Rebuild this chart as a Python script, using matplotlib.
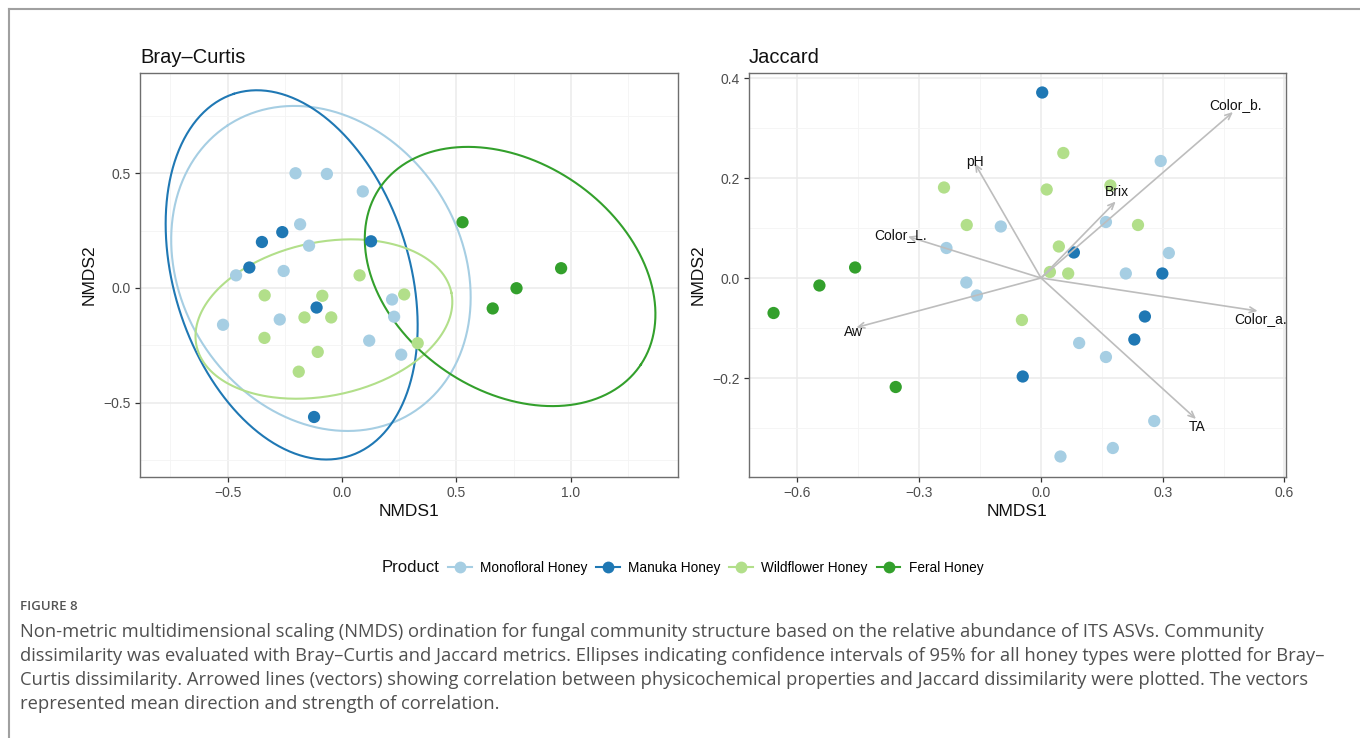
import numpy as np
import matplotlib
matplotlib.use("Agg")
import matplotlib.pyplot as plt
from matplotlib.lines import Line2D

plt.rcParams['font.family'] = ['Liberation Sans', 'DejaVu Sans']

# ---------------- data ----------------
groups = ["Monofloral Honey", "Manuka Honey", "Wildflower Honey", "Feral Honey"]
colors = ["#A6CEE3", "#1F78B4", "#B2DF8A", "#33A02C"]

# Bray-Curtis NMDS scores
bc_mono_x = [-0.203, -0.066, 0.091, -0.183, -0.144, -0.463, -0.255, 0.219, 0.228, -0.272, -0.520, 0.119, 0.259]
bc_mono_y = [0.499, 0.496, 0.420, 0.277, 0.184, 0.055, 0.074, -0.050, -0.125, -0.137, -0.160, -0.229, -0.290]
bc_manu_x = [-0.350, -0.261, -0.405, 0.127, -0.111, -0.122]
bc_manu_y = [0.200, 0.243, 0.089, 0.203, -0.085, -0.561]
bc_wild_x = [0.077, -0.338, -0.086, 0.272, -0.164, -0.047, -0.339, -0.106, -0.189, 0.331]
bc_wild_y = [0.055, -0.032, -0.034, -0.028, -0.128, -0.128, -0.217, -0.278, -0.364, -0.240]
bc_feral_x = [0.527, 0.958, 0.763, 0.659]
bc_feral_y = [0.286, 0.086, -0.001, -0.089]

# 95% ellipses: centre, semi-axes, orientation (degrees)
ell_cx = [-0.092, -0.220, -0.079, 0.735]
ell_cy = [0.085, 0.057, -0.135, 0.050]
ell_a = [0.744, 0.827, 0.569, 0.688]
ell_b = [0.612, 0.514, 0.334, 0.498]
ell_angle = [123.3, 107.8, 11.6, -33.8]

# Jaccard NMDS scores
jc_mono_x = [0.295, -0.099, 0.160, -0.233, 0.315, 0.209, -0.184, -0.158, 0.094, 0.160, 0.279, 0.177, 0.048]
jc_mono_y = [0.234, 0.103, 0.112, 0.060, 0.050, 0.009, -0.009, -0.035, -0.130, -0.158, -0.286, -0.340, -0.357]
jc_manu_x = [0.003, 0.081, 0.299, 0.256, 0.230, -0.045]
jc_manu_y = [0.371, 0.051, 0.009, -0.077, -0.123, -0.197]
jc_wild_x = [0.055, -0.239, 0.014, 0.171, -0.183, 0.239, 0.044, 0.022, 0.067, -0.047]
jc_wild_y = [0.250, 0.181, 0.177, 0.185, 0.106, 0.106, 0.063, 0.012, 0.009, -0.084]
jc_feral_x = [-0.458, -0.546, -0.659, -0.358]
jc_feral_y = [0.021, -0.015, -0.070, -0.218]

# environmental vectors (Jaccard)
env_names = ["Color_b.", "pH", "Brix", "Color_L.", "Color_a.", "Aw", "TA"]
env_x = [0.473, -0.163, 0.184, -0.328, 0.534, -0.455, 0.382]
env_y = [0.332, 0.229, 0.153, 0.083, -0.066, -0.099, -0.282]
env_label_offset = [(2, 5), (0, 1), (1, 7), (-5, 1), (2, -6), (-2, -3), (1, -6)]

bc_x = [bc_mono_x, bc_manu_x, bc_wild_x, bc_feral_x]
bc_y = [bc_mono_y, bc_manu_y, bc_wild_y, bc_feral_y]
jc_x = [jc_mono_x, jc_manu_x, jc_wild_x, jc_feral_x]
jc_y = [jc_mono_y, jc_manu_y, jc_wild_y, jc_feral_y]

# ---------------- figure ----------------
fig = plt.figure(figsize=(13.6, 7.38), dpi=100)
W, H = 1360, 738


def px_axes(x0, y0, x1, y1):
    return fig.add_axes([x0 / W, 1 - y1 / H, (x1 - x0) / W, (y1 - y0) / H])


ax1 = px_axes(140, 73, 678, 477)
ax2 = px_axes(749, 73, 1286, 477)

tick_col = "#4D4D4D"
border_col = "#6E6E6E"


def style(ax, xmaj, xmin, ymaj, ymin):
    ax.set_xticks(xmaj)
    ax.set_xticks(xmin, minor=True)
    ax.set_yticks(ymaj)
    ax.set_yticks(ymin, minor=True)
    ax.grid(which="major", color="#EBEBEB", lw=1.1, zorder=0)
    ax.grid(which="minor", color="#F4F4F4", lw=0.6, zorder=0)
    ax.set_axisbelow(True)
    for s in ax.spines.values():
        s.set_color(border_col)
        s.set_linewidth(1.0)
    ax.tick_params(which="major", length=3.5, width=0.9, color="#333333",
                   labelsize=10, labelcolor=tick_col, pad=3)
    ax.tick_params(which="minor", length=0)
    ax.set_xlabel("NMDS1", fontsize=12.5, color="#111111", labelpad=3)
    ax.set_ylabel("NMDS2", fontsize=12.5, color="#111111", labelpad=5)


def fmt(v):
    return f"{v:.1f}".replace("-", "\u2212")


# Bray-Curtis panel
t = np.linspace(0, 2 * np.pi, 300)
for cx, cy, a, b, ang, c in zip(ell_cx, ell_cy, ell_a, ell_b, ell_angle, colors):
    th = np.deg2rad(ang)
    ex = cx + a * np.cos(t) * np.cos(th) - b * np.sin(t) * np.sin(th)
    ey = cy + a * np.cos(t) * np.sin(th) + b * np.sin(t) * np.cos(th)
    ax1.plot(ex, ey, color=c, lw=1.5, zorder=2)
for xs, ys, c in zip(bc_x, bc_y, colors):
    ax1.scatter(xs, ys, s=78, color=c, edgecolors="none", zorder=3)
ax1.set_xlim(-0.883, 1.469)
ax1.set_ylim(-0.822, 0.935)
style(ax1, [-0.5, 0, 0.5, 1.0], [-0.75, -0.25, 0.25, 0.75, 1.25],
      [-0.5, 0, 0.5], [-0.75, -0.25, 0.25, 0.75])
ax1.set_xticklabels([fmt(v) for v in [-0.5, 0, 0.5, 1.0]])
ax1.set_yticklabels([fmt(v) for v in [-0.5, 0, 0.5]])
ax1.set_title("Bray\u2013Curtis", loc="left", fontsize=14.5, pad=7, color="#111111")

# Jaccard panel
for xs, ys, c in zip(jc_x, jc_y, colors):
    ax2.scatter(xs, ys, s=78, color=c, edgecolors="none", zorder=3)
for name, vx, vy, off in zip(env_names, env_x, env_y, env_label_offset):
    ax2.annotate("", xy=(vx, vy), xytext=(0, 0),
                 arrowprops=dict(arrowstyle="->,head_length=0.45,head_width=0.2",
                                 color="#BDBDBD", lw=1.2, shrinkA=0, shrinkB=0),
                 zorder=4)
    ax2.annotate(name, xy=(vx, vy), xytext=off, textcoords="offset points",
                 ha="center", va="center", fontsize=10, color="#111111", zorder=5)
ax2.set_xlim(-0.7195, 0.6037)
ax2.set_ylim(-0.398, 0.41)
style(ax2, [-0.6, -0.3, 0, 0.3, 0.6], [-0.45, -0.15, 0.15, 0.45],
      [-0.2, 0, 0.2, 0.4], [-0.3, -0.1, 0.1, 0.3])
ax2.set_xticklabels([fmt(v) for v in [-0.6, -0.3, 0, 0.3, 0.6]])
ax2.set_yticklabels([fmt(v) for v in [-0.2, 0, 0.2, 0.4]])
ax2.set_title("Jaccard", loc="left", fontsize=14.5, pad=7, color="#111111")

# legend
fig.text(382 / W, 1 - 568 / H, "Product", fontsize=12, va="center", ha="left", color="#111111")
handles = [Line2D([0], [0], color=c, lw=1.5, marker="o", markersize=8.5,
                  markeredgecolor="none") for c in colors]
fig.legend(handles, groups, loc="center left", bbox_to_anchor=(448 / W, 1 - 568 / H),
           ncol=4, frameon=False, fontsize=9.8, handlelength=1.75, handletextpad=0.6,
           columnspacing=0.65, borderaxespad=0, borderpad=0)

# figure frame
fig.add_artist(Line2D([9 / W, 1], [1 - 9 / H, 1 - 9 / H], color="#A0A0A0", lw=1.5))
fig.add_artist(Line2D([9 / W, 9 / W], [0, 1 - 9 / H], color="#A0A0A0", lw=1.5))

# caption
cap_font = ['Open Sans', 'DejaVu Sans']
fig.text(20 / W, 1 - 607 / H, "FIGURE 8", fontsize=9.5, color="#555555",
         fontweight="semibold", family=cap_font, va="center", ha="left")
caption = [
    "Non-metric multidimensional scaling (NMDS) ordination for fungal community structure based on the relative abundance of ITS ASVs. Community",
    "dissimilarity was evaluated with Bray\u2013Curtis and Jaccard metrics. Ellipses indicating confidence intervals of 95% for all honey types were plotted for Bray\u2013",
    "Curtis dissimilarity. Arrowed lines (vectors) showing correlation between physicochemical properties and Jaccard dissimilarity were plotted. The vectors",
    "represented mean direction and strength of correlation.",
]
for i, line in enumerate(caption):
    fig.text(20 / W, 1 - (632 + 24 * i) / H, line, fontsize=13.2, color="#505050",
             family=cap_font, va="center", ha="left")

fig.savefig("out.png", dpi=100)
